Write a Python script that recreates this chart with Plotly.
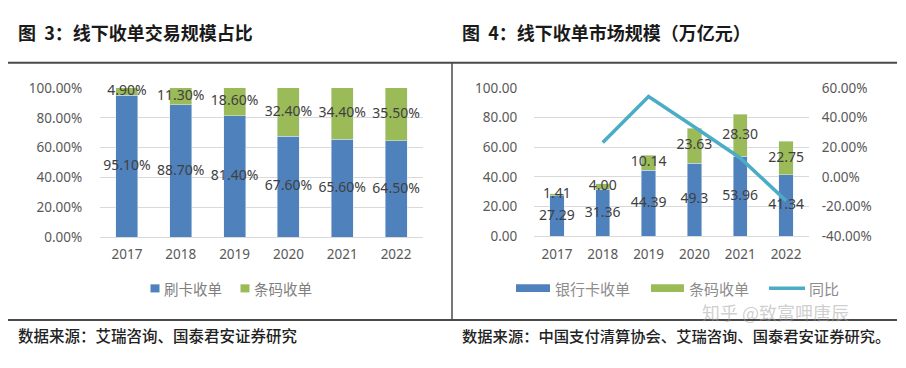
import plotly.graph_objects as go

W, H = 906, 368

# ---------------- data ----------------
years = ["2017", "2018", "2019", "2020", "2021", "2022"]

# Figure 3: share of offline acquiring transactions (%)
card_share = [95.10, 88.70, 81.40, 67.60, 65.60, 64.50]
qr_share = [4.90, 11.30, 18.60, 32.40, 34.40, 35.50]
share_ticks = [0, 20, 40, 60, 80, 100]
share_ticklabels = ["0.00%", "20.00%", "40.00%", "60.00%", "80.00%", "100.00%"]

# Figure 4: offline acquiring market size (trillion yuan)
bank_card = [27.29, 31.36, 44.39, 49.3, 53.96, 41.34]
bank_card_text = ["27.29", "31.36", "44.39", "49.3", "53.96", "41.34"]
qr_code = [1.41, 4.00, 10.14, 23.63, 28.30, 22.75]
qr_code_text = ["1.41", "4.00", "10.14", "23.63", "28.30", "22.75"]
yoy = [None, 23.2, 54.2, 33.7, 12.8, -16.0]
size_ticks = [0, 20, 40, 60, 80, 100]
size_ticklabels = ["0.00", "20.00", "40.00", "60.00", "80.00", "100.00"]
yoy_ticks = [-40, -20, 0, 20, 40, 60]
yoy_ticklabels = ["-40.00%", "-20.00%", "0.00%", "20.00%", "40.00%", "60.00%"]

# ---------------- style ----------------
BLUE = "#4F81BD"
GREEN = "#9BBB59"
AQUA = "#4BACC6"
GRID = "#d9d9d9"
TICK = "#595959"
LABEL = "#404040"
NUMFONT = "Noto Sans"
CJK = "Noto Sans CJK SC"


def px(x):
    return x / W


def py(y):
    return 1 - y / H


fig = go.Figure()

# ---- left chart ----
fig.add_trace(go.Bar(x=years, y=card_share, name="刷卡收单", marker_color=BLUE,
                     width=0.41, xaxis="x", yaxis="y", showlegend=False, hoverinfo="skip"))
fig.add_trace(go.Bar(x=years, y=qr_share, name="条码收单", marker_color=GREEN,
                     width=0.41, xaxis="x", yaxis="y", showlegend=False, hoverinfo="skip"))
fig.add_trace(go.Scatter(x=years, y=[v / 2 for v in card_share], mode="text",
                         text=[f"{v:.2f}%" for v in card_share],
                         textfont=dict(family=NUMFONT, size=14, color=LABEL),
                         xaxis="x", yaxis="y", showlegend=False, cliponaxis=False, hoverinfo="skip"))
fig.add_trace(go.Scatter(x=years, y=[c + q / 2 for c, q in zip(card_share, qr_share)], mode="text",
                         text=[f"{v:.2f}%" for v in qr_share],
                         textfont=dict(family=NUMFONT, size=14, color=LABEL),
                         xaxis="x", yaxis="y", showlegend=False, cliponaxis=False, hoverinfo="skip"))

# ---- right chart ----
fig.add_trace(go.Bar(x=years, y=bank_card, name="银行卡收单", marker_color=BLUE,
                     width=0.31, xaxis="x2", yaxis="y2", showlegend=False, hoverinfo="skip"))
fig.add_trace(go.Bar(x=years, y=qr_code, name="条码收单", marker_color=GREEN,
                     width=0.31, xaxis="x2", yaxis="y2", showlegend=False, hoverinfo="skip"))
fig.add_trace(go.Scatter(x=years, y=[v / 2 for v in bank_card], mode="text",
                         text=bank_card_text,
                         textfont=dict(family=NUMFONT, size=14, color=LABEL),
                         xaxis="x2", yaxis="y2", showlegend=False, cliponaxis=False, hoverinfo="skip"))
fig.add_trace(go.Scatter(x=years, y=[b + q / 2 for b, q in zip(bank_card, qr_code)], mode="text",
                         text=qr_code_text,
                         textfont=dict(family=NUMFONT, size=14, color=LABEL),
                         xaxis="x2", yaxis="y2", showlegend=False, cliponaxis=False, hoverinfo="skip"))
fig.add_trace(go.Scatter(x=years, y=yoy, mode="lines", name="同比",
                         line=dict(color=AQUA, width=3.5), connectgaps=False,
                         xaxis="x2", yaxis="y3", showlegend=False, cliponaxis=False, hoverinfo="skip"))

tickfont = dict(family=NUMFONT, size=13.5, color=TICK)

fig.update_layout(
    width=W, height=H,
    margin=dict(l=0, r=0, t=0, b=0),
    paper_bgcolor="white", plot_bgcolor="white",
    barmode="stack",
    showlegend=False,
    xaxis=dict(domain=[px(100), px(423)], anchor="y", type="category", range=[-0.5, 5.5],
               showgrid=False, showline=True, linecolor=GRID, linewidth=1,
               ticks="outside", ticklen=5, tickcolor="rgba(0,0,0,0)", tickfont=tickfont),
    yaxis=dict(domain=[py(240), py(83)], anchor="x", range=[0, 100],
               tickvals=share_ticks, ticktext=share_ticklabels,
               showgrid=True, gridcolor=GRID, gridwidth=1, zeroline=False,
               ticks="outside", ticklen=14, tickcolor="rgba(0,0,0,0)", tickfont=tickfont),
    xaxis2=dict(domain=[px(534), px(809)], anchor="y2", type="category", range=[-0.5, 5.5],
                showgrid=False, showline=True, linecolor=GRID, linewidth=1,
                ticks="outside", ticklen=5, tickcolor="rgba(0,0,0,0)", tickfont=tickfont),
    yaxis2=dict(domain=[py(239), py(83)], anchor="x2", range=[0, 100],
                tickvals=size_ticks, ticktext=size_ticklabels,
                showgrid=True, gridcolor=GRID, gridwidth=1, zeroline=False,
                ticks="outside", ticklen=13, tickcolor="rgba(0,0,0,0)", tickfont=tickfont),
    yaxis3=dict(overlaying="y2", side="right", anchor="x2", range=[-40, 60],
                tickvals=yoy_ticks, ticktext=yoy_ticklabels,
                showgrid=False, zeroline=False,
                ticks="outside", ticklen=9, tickcolor="rgba(0,0,0,0)", tickfont=tickfont),
)

shapes = [
    # frame lines
    dict(type="line", xref="paper", yref="paper", x0=px(8), x1=px(897), y0=py(56.5), y1=py(56.5),
         line=dict(color="#4a4a4a", width=2)),
    dict(type="line", xref="paper", yref="paper", x0=px(8), x1=px(897), y0=py(327), y1=py(327),
         line=dict(color="#4a4a4a", width=2)),
    dict(type="line", xref="paper", yref="paper", x0=px(452), x1=px(452), y0=py(56.5), y1=py(327),
         line=dict(color="#4a4a4a", width=1.5)),
    # left legend swatches
    dict(type="rect", xref="paper", yref="paper", x0=px(150.5), x1=px(159.5), y0=py(298), y1=py(289.5),
         fillcolor=BLUE, line=dict(width=0)),
    dict(type="rect", xref="paper", yref="paper", x0=px(240.5), x1=px(249.5), y0=py(298), y1=py(289.5),
         fillcolor=GREEN, line=dict(width=0)),
    # right legend swatches
    dict(type="rect", xref="paper", yref="paper", x0=px(516), x1=px(550), y0=py(297.5), y1=py(289.5),
         fillcolor=BLUE, line=dict(width=0)),
    dict(type="rect", xref="paper", yref="paper", x0=px(651), x1=px(684), y0=py(297.5), y1=py(289.5),
         fillcolor=GREEN, line=dict(width=0)),
    dict(type="line", xref="paper", yref="paper", x0=px(769), x1=px(805), y0=py(293.5), y1=py(293.5),
         line=dict(color=AQUA, width=3.5)),
]
fig.update_layout(shapes=shapes)


def ann(text, x, y, size, color, xanchor="left", weight="normal", family=CJK):
    return dict(text=text, x=px(x), y=py(y), xref="paper", yref="paper",
                xanchor=xanchor, yanchor="middle", showarrow=False,
                font=dict(family=family, size=size, color=color, weight=weight))


annotations = [
    ann("图  3：线下收单交易规模占比", 16, 24, 18, "#1a1a1a", weight="bold"),
    ann("图  4：线下收单市场规模（万亿元）", 460, 24, 18, "#1a1a1a", weight="bold"),
    ann("数据来源：艾瑞咨询、国泰君安证券研究", 16, 343, 15.5, "#222222", weight=500),
    ann("数据来源：中国支付清算协会、艾瑞咨询、国泰君安证券研究。", 460, 343, 15.3, "#222222", weight=500),
    ann("刷卡收单", 162, 293.5, 14.5, "#7f7f7f"),
    ann("条码收单", 252, 293.5, 14.5, "#7f7f7f"),
    ann("银行卡收单", 553, 293.5, 15, "#8c8c8c"),
    ann("条码收单", 687, 293.5, 15, "#8c8c8c"),
    ann("同比", 807, 293.5, 15, "#8c8c8c"),
    ann("知乎 @致富呷唐辰", 775, 319, 18, "rgba(160,160,160,0.5)", xanchor="center"),
]
fig.update_layout(annotations=annotations)

fig.write_html(
    "out.html",
    config={"displayModeBar": False},
    post_script="document.body.style.margin='0';document.body.style.overflow='hidden';",
)
